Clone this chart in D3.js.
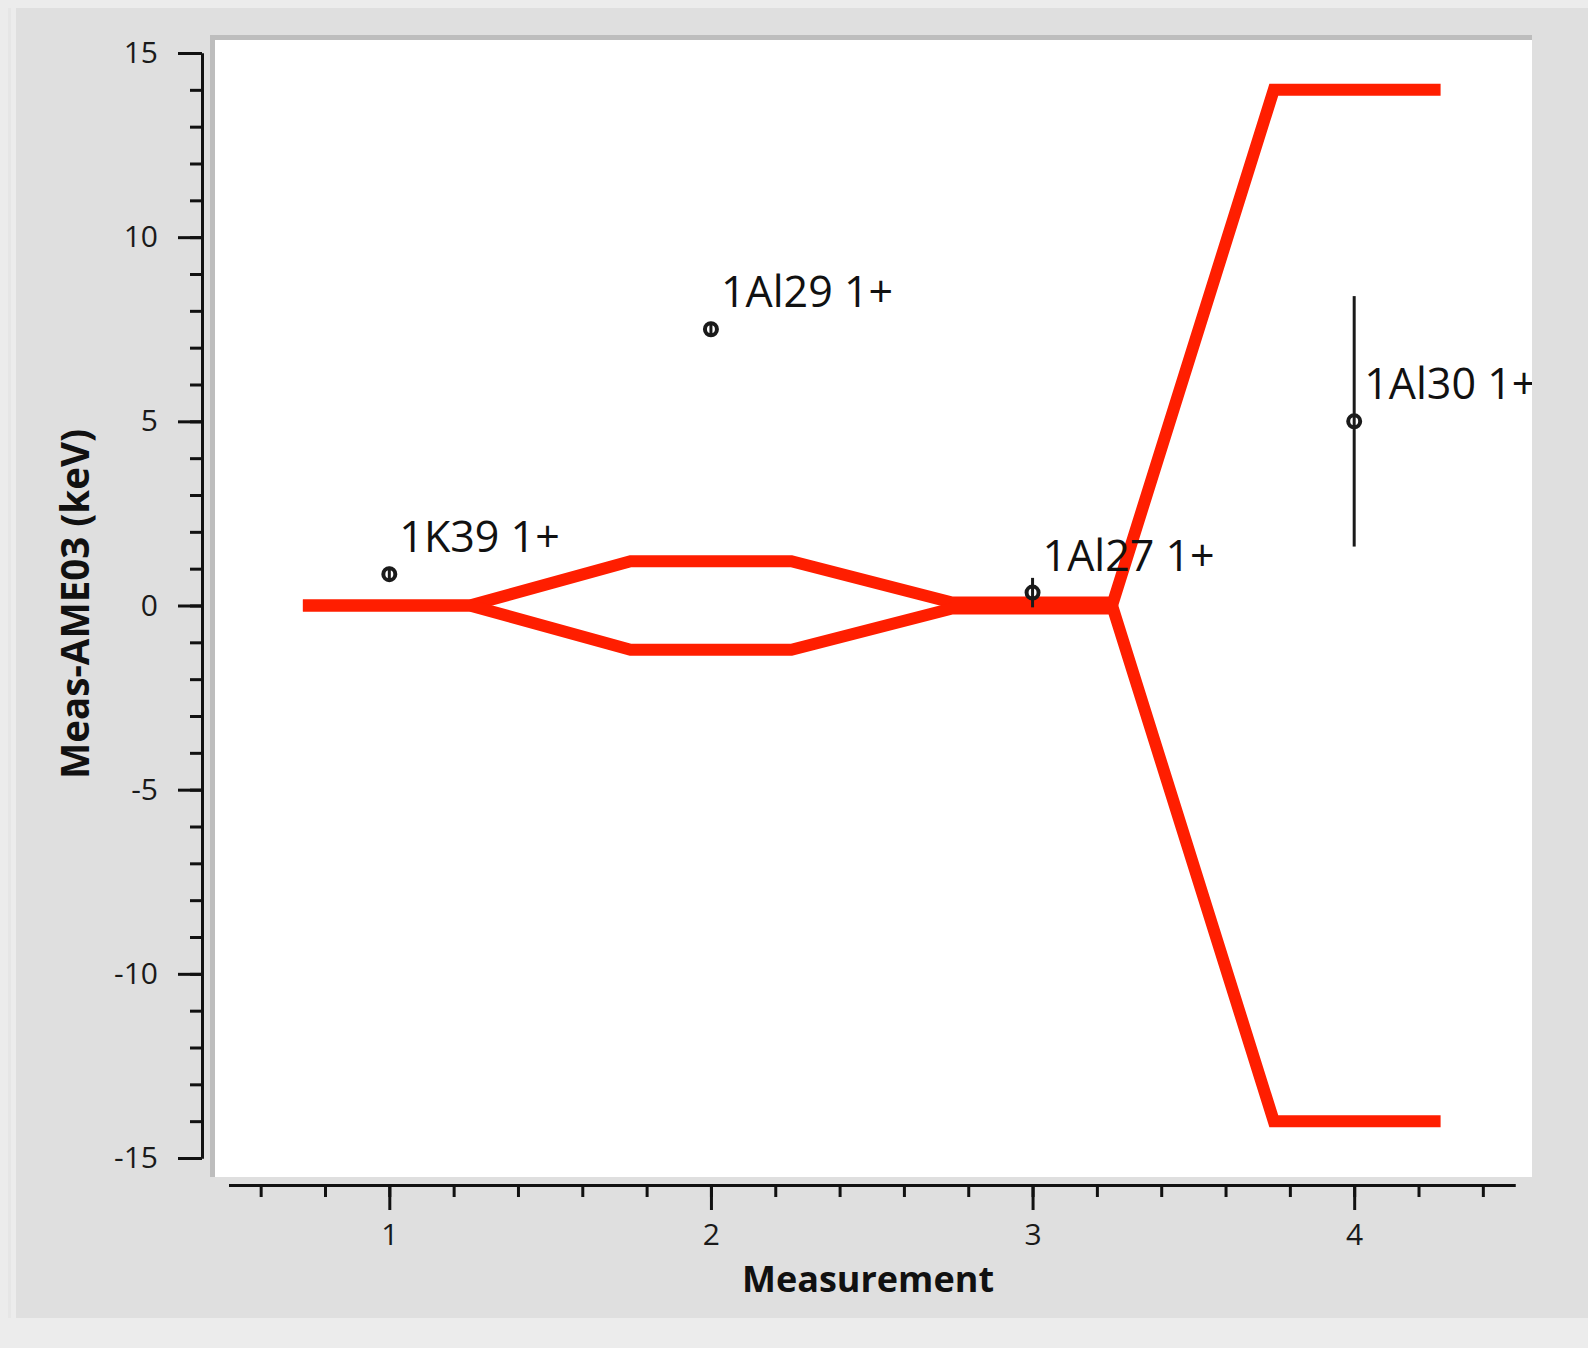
<!DOCTYPE html>
<html>
<head>
<meta charset="utf-8" />
<title>Meas-AME03 by measurement</title>
<style>
  body { margin: 0; background: #ececec; }
  svg { display: block; }
</style>
</head>
<body>
<script src="https://d3js.org/d3.v7.min.js"></script>
<script>

    // measurement data
    var measurements = [1, 2, 3, 4];
    var labels = ["1K39 1+", "1Al29 1+", "1Al27 1+", "1Al30 1+"];
    var values = [0.85, 7.5, 0.35, 5.0];
    var errors = [0.2, 0.2, 0.4, 3.4];
    // half width of the red band around zero for each measurement
    var bandHalf = [0, 1.2, 0.08, 14];

    var yTicks = [-15, -10, -5, 0, 5, 10, 15];
    var xTicks = [1, 2, 3, 4];

    var width = 1588;
    var height = 1348;
    var red = "#ff1e00";
    var font = "'Open Sans', 'Liberation Sans', sans-serif";

    var svg = d3.select("body").append("svg")
                .attr("width", width)
                .attr("height", height);

    // window panel
    svg.append("rect")
       .attr("x", 16).attr("y", 8)
       .attr("width", width - 16).attr("height", 1310)
       .attr("fill", "#dfdfdf");
    svg.append("rect")
       .attr("x", 8).attr("y", 8)
       .attr("width", 3).attr("height", 1310)
       .attr("fill", "#e6e6e6");

    // plot area with its sunken border
    svg.append("rect")
       .attr("x", 210).attr("y", 35)
       .attr("width", 1322).attr("height", 1142)
       .attr("fill", "#bdbdbd");
    svg.append("rect")
       .attr("x", 215).attr("y", 40)
       .attr("width", 1317).attr("height", 1137)
       .attr("fill", "#fff");

    var x = d3.scaleLinear().domain([0.5, 4.5]).range([228.5, 1515]);
    var y = d3.scaleLinear().domain([-15, 15]).range([1158, 53]);

    // y axis
    svg.append("g")
        .attr("transform", "translate(202,0)")
        .call(d3.axisLeft(y).tickValues(d3.range(-15, 16, 1)).tickSize(12).tickSizeOuter(0).tickFormat(""));
    svg.append("g")
        .attr("transform", "translate(202,0)")
        .call(d3.axisLeft(y).tickValues(yTicks).tickSize(24).tickSizeOuter(0).tickPadding(20).tickFormat(d => String(d)));

    // x axis
    svg.append("g")
        .attr("transform", "translate(0,1185)")
        .call(d3.axisBottom(x).tickValues(d3.range(0.6, 4.45, 0.2)).tickSize(12).tickSizeOuter(0).tickFormat(""));
    svg.append("g")
        .attr("transform", "translate(0,1185)")
        .call(d3.axisBottom(x).tickValues(xTicks).tickSize(25).tickSizeOuter(0).tickPadding(14).tickFormat(d => String(d)));

    svg.selectAll(".domain, .tick line")
       .attr("stroke", "#111")
       .attr("stroke-width", 3);
    svg.selectAll(".tick text")
       .attr("fill", "#1a1a1a")
       .style("font-family", font)
       .style("font-size", "30px");

    // axis titles
    svg.append("text")
       .attr("x", 868).attr("y", 1292)
       .attr("text-anchor", "middle")
       .style("font-family", font)
       .style("font-weight", "bold")
       .style("font-size", "36px")
       .attr("fill", "#111")
       .text("Measurement");

    svg.append("text")
       .attr("transform", "translate(89,604) rotate(-90)")
       .attr("text-anchor", "middle")
       .style("font-family", font)
       .style("font-weight", "bold")
       .style("font-size", "38.5px")
       .attr("fill", "#111")
       .text("Meas-AME03 (keV)");

    // clip for marks inside the plot
    svg.append("clipPath").attr("id", "plotclip")
       .append("rect")
       .attr("x", 215).attr("y", 40)
       .attr("width", 1317).attr("height", 1137);

    var plot = svg.append("g").attr("clip-path", "url(#plotclip)");

    // red band: flat over each measurement, sloped between them
    var upper = [];
    var lower = [];
    measurements.forEach(function(m, i){
        upper.push([m - 0.25, bandHalf[i]], [m + 0.25, bandHalf[i]]);
        lower.push([m - 0.25, -bandHalf[i]], [m + 0.25, -bandHalf[i]]);
    });

    var line = d3.line().x(d => x(d[0])).y(d => y(d[1]));

    plot.selectAll("path.band")
        .data([upper, lower])
        .enter()
        .append("path")
        .attr("class", "band")
        .attr("d", line)
        .attr("fill", "none")
        .attr("stroke", red)
        .attr("stroke-linecap", "square")
        .attr("stroke-width", 12);

    // measured points with error bars
    var pts = plot.selectAll("g.pt")
        .data(measurements)
        .enter()
        .append("g")
        .attr("class", "pt");

    pts.append("line")
       .attr("x1", d => x(d)).attr("x2", d => x(d))
       .attr("y1", (d, i) => y(values[i] + errors[i]))
       .attr("y2", (d, i) => y(values[i] - errors[i]))
       .attr("stroke", "#1a1a1a")
       .attr("stroke-width", 3);

    pts.append("circle")
       .attr("cx", d => x(d))
       .attr("cy", (d, i) => y(values[i]))
       .attr("r", 6)
       .attr("fill", "none")
       .attr("stroke", "#1a1a1a")
       .attr("stroke-width", 4);

    pts.append("text")
       .attr("x", d => x(d) + 10)
       .attr("y", (d, i) => y(values[i]) - 22)
       .style("font-family", font)
       .style("font-size", "43px")
       .attr("fill", "#111")
       .text((d, i) => labels[i]);

</script>
</body>
</html>
